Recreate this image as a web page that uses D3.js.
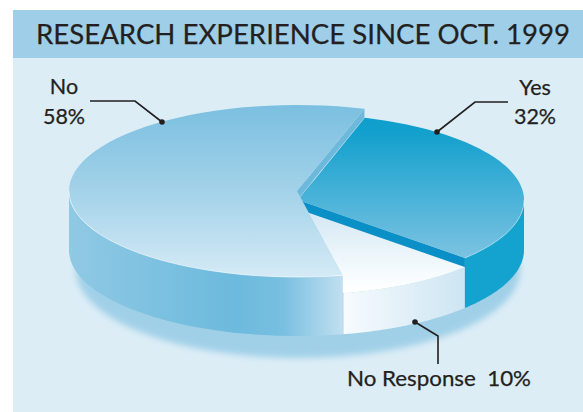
<!DOCTYPE html>
<html><head><meta charset="utf-8">
<script src="https://cdnjs.cloudflare.com/ajax/libs/d3/7.8.5/d3.min.js"></script>
<style>html,body{margin:0;padding:0;background:#fff}svg{display:block}text{font-family:Lato,"Open Sans",sans-serif;fill:#231f20;stroke:#231f20;stroke-width:.25px}</style>
</head><body><svg id="c" width="583" height="412"></svg>
<script>
const chartTitle = "RESEARCH EXPERIENCE SINCE OCT. 1999";
const categories = ["Yes", "No Response", "No"];
const values = [32, 10, 58];
const valueLabels = ["32%", "10%", "58%"];

const svg = d3.select("#c");
const deg = Math.PI / 180;
const baseY = 250, ry = 86;
const geo = {
  "No":          {cx: 297, rx: 228, top: 191},
  "Yes":         {cx: 298, rx: 226, top: 200},
  "No Response": {cx: 298, rx: 226, top: 209}
};
const arcs = d3.pie().sort(null).value(d => d.v).startAngle(17.2 * deg).endAngle(377.2 * deg)(
  categories.map((c, i) => ({c, v: values[i]})));
const byName = Object.fromEntries(arcs.map(a => [a.data.c, a]));
const proj = (g, a, y) => [g.cx + g.rx * Math.sin(a), y - ry * Math.cos(a)];
const samples = (a0, a1) => d3.range(0, 61).map(d3.scaleLinear([0, 60], [a0, a1]));
const pathLine = d3.line();

const defs = svg.append("defs");
function grad(id, x1, y1, x2, y2, stops) {
  const g = defs.append("linearGradient").attr("id", id).attr("gradientUnits", "userSpaceOnUse")
    .attr("x1", x1).attr("y1", y1).attr("x2", x2).attr("y2", y2);
  stops.forEach(s => g.append("stop").attr("offset", s[0]).attr("stop-color", s[1]));
}
grad("gNoTop", 0, 105, 0, 277, [[0, "#7bbfe0"], [.5, "#a3d2e9"], [1, "#d5eaf6"]]);
grad("gYesTop", 0, 114, 0, 258, [[0, "#0f9ecc"], [.12, "#12a0cd"], [1, "#7cc3e2"]]);
grad("gRespTop", 0, 215, 0, 292, [[0, "#d6e9f4"], [.75, "#f6fbfd"], [1, "#ffffff"]]);
grad("gNoSide", 69, 0, 343, 0, [[0, "#90c9e4"], [.6, "#6cbadd"], [.78, "#78bfe0"], [1, "#c2dff0"]]);
grad("gRespSide", 343, 0, 465, 0, [[0, "#f7fbfe"], [1, "#cde5f2"]]);
defs.append("filter").attr("id", "blur").attr("x", "-10%").attr("y", "-20%").attr("width", "120%").attr("height", "140%")
  .append("feGaussianBlur").attr("stdDeviation", 3);

// panel
svg.append("rect").attr("x", 13).attr("y", 10).attr("width", 570).attr("height", 402).attr("fill", "#dcedf6");
svg.append("rect").attr("x", 13).attr("y", 10).attr("width", 570).attr("height", 48).attr("fill", "#9fcfe8");
svg.append("text").attr("x", 36).attr("y", 44).attr("font-size", 27).attr("textLength", 534)
  .attr("lengthAdjust", "spacingAndGlyphs").text(chartTitle);

// shadow
svg.append("ellipse").attr("cx", 298).attr("cy", 270).attr("rx", 222).attr("ry", 88)
  .attr("fill", "#a0d0e8").attr("filter", "url(#blur)");

function wall(g, a0, a1, fill) {
  const pts = samples(a0, a1);
  const p = pts.map(a => proj(g, a, g.top)).concat(pts.slice().reverse().map(a => proj(g, a, baseY)));
  svg.append("path").attr("d", pathLine(p) + "Z").attr("fill", fill);
}
function face(g, a0, a1, fill) {
  const p = [[g.cx, g.top]].concat(samples(a0, a1).map(a => proj(g, a, g.top)));
  svg.append("path").attr("d", pathLine(p) + "Z").attr("fill", fill);
}
function rim(g, a0, a1, op) {
  svg.append("path").attr("d", pathLine(samples(a0, a1).map(a => proj(g, a, g.top))))
    .attr("fill", "none").attr("stroke", "#fff").attr("stroke-width", .8).attr("stroke-opacity", op);
}
function step(g, a, drop, fill) {
  const e = proj(g, a, g.top);
  const p = [[g.cx, g.top], e, [e[0], e[1] + drop], [g.cx, g.top + drop]];
  svg.append("path").attr("d", pathLine(p) + "Z").attr("fill", fill);
}

const R = byName["No Response"], Y = byName["Yes"], N = byName["No"];
wall(geo["No Response"], R.startAngle, R.endAngle, "url(#gRespSide)");
face(geo["No Response"], R.startAngle, R.endAngle, "url(#gRespTop)");
step(geo["Yes"], Y.endAngle, 9, "#0a8fc6");
wall(geo["Yes"], 90 * deg, Y.endAngle, "#14a3cf");
face(geo["Yes"], Y.startAngle, Y.endAngle, "url(#gYesTop)");
rim(geo["Yes"], 90 * deg, Y.endAngle, .5);
step(geo["No"], N.endAngle, 9, "#6cb9dc");
wall(geo["No"], N.startAngle, 270 * deg, "url(#gNoSide)");
face(geo["No"], N.startAngle, N.endAngle, "url(#gNoTop)");
rim(geo["No"], N.startAngle, 270 * deg, .7);

// leaders
const leaderLines = [
  [[162, 122], [135, 101], [90, 101]],
  [[437, 132], [475, 102], [508, 102]],
  [[415, 322], [438, 336], [438, 364]]
];
leaderLines.forEach(l => {
  svg.append("path").attr("d", pathLine(l)).attr("fill", "none")
    .attr("stroke", "#231f20").attr("stroke-width", 1.6);
  svg.append("circle").attr("cx", l[0][0]).attr("cy", l[0][1]).attr("r", 2.8).attr("fill", "#231f20");
});

// labels
const lab = (x, y, t) => svg.append("text").attr("x", x).attr("y", y).attr("font-size", 21.5)
  .attr("text-anchor", "middle").text(t);
lab(64, 94, categories[2]);
lab(64, 124, valueLabels[2]);
lab(535, 95, categories[0]);
lab(535, 124, valueLabels[0]);
lab(439, 386, categories[1] + "\u00a0\u00a0" + valueLabels[1]).attr("textLength", 184).attr("lengthAdjust", "spacingAndGlyphs");
</script></body></html>
